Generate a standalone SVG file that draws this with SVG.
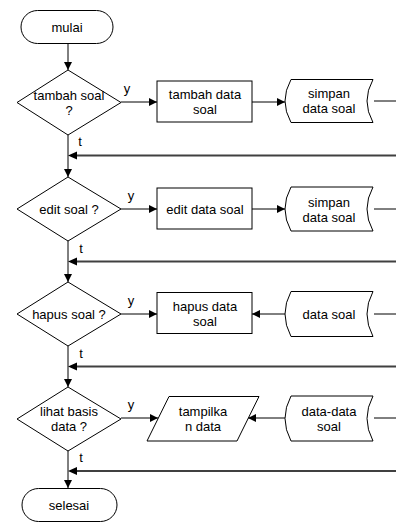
<svg xmlns="http://www.w3.org/2000/svg" width="396" height="525" viewBox="0 0 396 525">
  <style>
    .shape { fill: #ffffff; stroke: #000000; stroke-width: 1; }
    .line { fill: none; stroke: #000000; stroke-width: 1; }
    .back { fill: none; stroke: #404040; stroke-width: 2; }
    text { font-family: "Liberation Sans", Arial, sans-serif; font-size: 13px; fill: #000000; text-anchor: middle; dominant-baseline: central; }
  </style>
  <defs>
    <marker id="arrow" viewBox="0 0 10 10" refX="10" refY="5" markerWidth="9" markerHeight="8" markerUnits="userSpaceOnUse" orient="auto">
      <path d="M0,0 L10,5 L0,10 Z" fill="#000000"/>
    </marker>
  </defs>

  <!-- connectors -->
  <g id="connectors">
    <!-- main vertical flow -->
    <line class="line" x1="68" y1="43" x2="68" y2="70" marker-end="url(#arrow)"/>
    <line class="line" x1="68" y1="135" x2="68" y2="177" marker-end="url(#arrow)"/>
    <line class="line" x1="68" y1="241" x2="68" y2="282" marker-end="url(#arrow)"/>
    <line class="line" x1="68" y1="346" x2="68" y2="387" marker-end="url(#arrow)"/>
    <line class="line" x1="68" y1="451" x2="68" y2="488" marker-end="url(#arrow)"/>

    <!-- "y" branches -->
    <line class="line" x1="121" y1="102" x2="157" y2="102" marker-end="url(#arrow)"/>
    <line class="line" x1="252" y1="102" x2="285" y2="102" marker-end="url(#arrow)"/>
    <line class="line" x1="374" y1="101" x2="396" y2="101"/>

    <line class="line" x1="121" y1="209" x2="157" y2="209" marker-end="url(#arrow)"/>
    <line class="line" x1="252" y1="209" x2="285" y2="209" marker-end="url(#arrow)"/>
    <line class="line" x1="374" y1="209" x2="396" y2="209"/>

    <line class="line" x1="121" y1="314" x2="157" y2="314" marker-end="url(#arrow)"/>
    <line class="line" x1="285" y1="314" x2="252" y2="314" marker-end="url(#arrow)"/>
    <line class="line" x1="374" y1="314" x2="396" y2="314"/>

    <line class="line" x1="121" y1="418" x2="158" y2="418" marker-end="url(#arrow)"/>
    <line class="line" x1="285" y1="418" x2="248" y2="418" marker-end="url(#arrow)"/>
    <line class="line" x1="374" y1="418" x2="396" y2="418"/>

    <!-- return lines -->
    <line class="back" x1="396" y1="155.5" x2="77" y2="155.5"/>
    <path d="M68,155.5 L77,151.5 L77,159.5 Z" fill="#000000"/>
    <line class="back" x1="396" y1="261.5" x2="77" y2="261.5"/>
    <path d="M68,261.5 L77,257.5 L77,265.5 Z" fill="#000000"/>
    <line class="back" x1="396" y1="366.5" x2="77" y2="366.5"/>
    <path d="M68,366.5 L77,362.5 L77,370.5 Z" fill="#000000"/>
    <line class="back" x1="396" y1="471" x2="77" y2="471"/>
    <path d="M68,471 L77,467 L77,475 Z" fill="#000000"/>

    <!-- branch labels -->
    <text x="127" y="88">y</text>
    <text x="80" y="141">t</text>
    <text x="131" y="195">y</text>
    <text x="81" y="248">t</text>
    <text x="131" y="300">y</text>
    <text x="81" y="353">t</text>
    <text x="131" y="404">y</text>
    <text x="81" y="457">t</text>
  </g>

  <!-- start -->
  <g id="start">
    <rect class="shape" x="21" y="10.5" width="92" height="33" rx="16.5" ry="16.5"/>
    <text x="67" y="27">mulai</text>
  </g>

  <!-- tambah -->
  <g id="decision-tambah">
    <polygon class="shape" points="68,70 121,102.5 68,135 17,102.5"/>
    <text x="69" y="95">tambah soal</text>
    <text x="69" y="110">?</text>
  </g>
  <g id="process-tambah">
    <rect class="shape" x="157" y="81" width="95" height="41"/>
    <text x="205" y="94">tambah data</text>
    <text x="205" y="109">soal</text>
  </g>
  <g id="store-tambah">
    <path class="shape" d="M291,79.5 L373,79.5 Q361,101 373,122.5 L291,122.5 Q279,101 291,79.5 Z"/>
    <text x="329" y="93">simpan</text>
    <text x="329" y="108">data soal</text>
  </g>

  <!-- edit -->
  <g id="decision-edit">
    <polygon class="shape" points="68,177 121,209 68,241 17,209"/>
    <text x="69" y="209">edit soal ?</text>
  </g>
  <g id="process-edit">
    <rect class="shape" x="157" y="188" width="95" height="41"/>
    <text x="205" y="209">edit data soal</text>
  </g>
  <g id="store-edit">
    <path class="shape" d="M291,187 L373,187 Q361,209 373,231 L291,231 Q279,209 291,187 Z"/>
    <text x="329" y="202">simpan</text>
    <text x="329" y="217">data soal</text>
  </g>

  <!-- hapus -->
  <g id="decision-hapus">
    <polygon class="shape" points="68,282 121,314 68,346 17,314"/>
    <text x="69" y="314">hapus soal ?</text>
  </g>
  <g id="process-hapus">
    <rect class="shape" x="157" y="292.5" width="95" height="41"/>
    <text x="205" y="306">hapus data</text>
    <text x="205" y="321">soal</text>
  </g>
  <g id="store-hapus">
    <path class="shape" d="M291,291.5 L373,291.5 Q361,314 373,336.5 L291,336.5 Q279,314 291,291.5 Z"/>
    <text x="329" y="314">data soal</text>
  </g>

  <!-- lihat -->
  <g id="decision-lihat">
    <polygon class="shape" points="68,387 121,419 68,451 17,419"/>
    <text x="69" y="411">lihat basis</text>
    <text x="69" y="426">data ?</text>
  </g>
  <g id="output-lihat">
    <polygon class="shape" points="169,396.5 259,396.5 237,441 147,441"/>
    <text x="203" y="411">tampilka</text>
    <text x="203" y="426">n data</text>
  </g>
  <g id="store-lihat">
    <path class="shape" d="M291,396 L373,396 Q361,418.5 373,441 L291,441 Q279,418.5 291,396 Z"/>
    <text x="329" y="411">data-data</text>
    <text x="329" y="426">soal</text>
  </g>

  <!-- end -->
  <g id="end">
    <rect class="shape" x="22" y="488.5" width="95" height="33" rx="16.5" ry="16.5"/>
    <text x="69" y="505">selesai</text>
  </g>
</svg>
